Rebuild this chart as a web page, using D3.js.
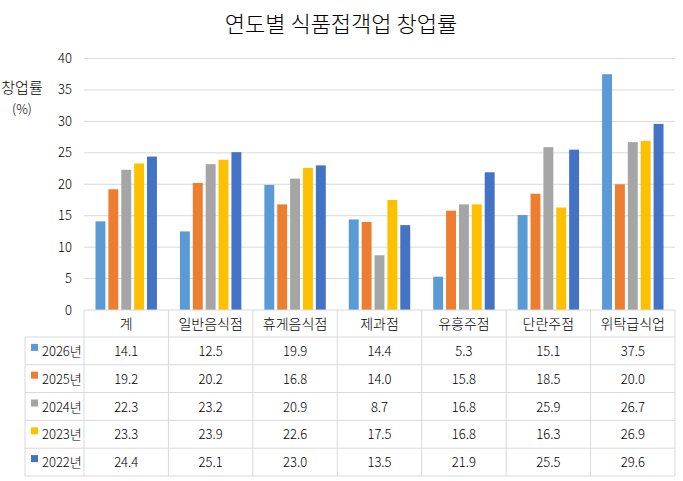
<!DOCTYPE html>
<html><head><meta charset="utf-8">
<script src="https://cdn.jsdelivr.net/npm/d3@7"></script>
<style>body{margin:0;background:#fff}svg{display:block;font-family:"Noto Sans CJK KR","Noto Sans",sans-serif}</style>
</head><body>
<script>
const categories = ["계","일반음식점","휴게음식점","제과점","유흥주점","단란주점","위탁급식업"];
const seriesNames = ["2026년","2025년","2024년","2023년","2022년"];
const v2026 = [14.1,12.5,19.9,14.4,5.3,15.1,37.5];
const v2025 = [19.2,20.2,16.8,14.0,15.8,18.5,20.0];
const v2024 = [22.3,23.2,20.9,8.7,16.8,25.9,26.7];
const v2023 = [23.3,23.9,22.6,17.5,16.8,16.3,26.9];
const v2022 = [24.4,25.1,23.0,13.5,21.9,25.5,29.6];
const yTicks = [0,5,10,15,20,25,30,35,40];
const colors = ["#5B9BD5","#ED7D31","#A5A5A5","#FFC000","#4472C4"];
const seriesValues = [v2026,v2025,v2024,v2023,v2022];

const W=683,H=481;
const svg=d3.select("body").append("svg").attr("width",W).attr("height",H);
const pLeft=84,pRight=675,pTop=58.5,pBottom=310;
const x=d3.scaleBand().domain(categories).range([pLeft,pRight]);
const xs=d3.scaleBand().domain(seriesNames).range([11.5,x.bandwidth()-11.5]).paddingInner(0.23);
const y=d3.scaleLinear().domain([0,40]).range([pBottom,pTop]);

// title
svg.append("text").attr("x",341).attr("y",32).attr("text-anchor","middle").attr("font-size",22).attr("font-weight",300).attr("fill","#000").text("연도별 식품접객업 창업률");
// y label
svg.append("text").attr("x",22).attr("y",93).attr("text-anchor","middle").attr("font-size",15).attr("font-weight",300).text("창업률");
svg.append("text").attr("x",22).attr("y",114).attr("text-anchor","middle").attr("font-size",13).attr("font-weight",300).text("(%)");

// grid
svg.append("g").selectAll("line").data(yTicks.filter(d=>d>0)).join("line")
 .attr("x1",pLeft).attr("x2",pRight).attr("y1",d=>y(d)).attr("y2",d=>y(d))
 .attr("stroke","#d9d9d9").attr("stroke-width",1);
// y tick labels
svg.append("g").selectAll("text").data(yTicks).join("text")
 .attr("x",72).attr("y",d=>y(d)+4.5).attr("text-anchor","end").attr("font-size",13).attr("font-weight",300).attr("fill","#000").text(d=>d);

// bars
seriesNames.forEach((s,i)=>{
  svg.append("g").selectAll("rect").data(categories).join("rect")
   .attr("x",c=>x(c)+xs(s)).attr("width",xs.bandwidth())
   .attr("y",(c,j)=>y(seriesValues[i][j])).attr("height",(c,j)=>pBottom-y(seriesValues[i][j]))
   .attr("fill",colors[i]);
});

// table
const rowH=27.8, headH=27;
const tb=svg.append("g").attr("font-weight",300);
const tableBottom=pBottom+headH+rowH*5;
const stroke="#d9d9d9";
tb.append("line").attr("x1",pLeft).attr("x2",pRight).attr("y1",pBottom).attr("y2",pBottom).attr("stroke",stroke);
for(let r=0;r<=5;r++){
  const yy=pBottom+headH+rowH*r;
  tb.append("line").attr("x1",25).attr("x2",pRight).attr("y1",yy).attr("y2",yy).attr("stroke",stroke);
}
tb.append("line").attr("x1",25).attr("x2",25).attr("y1",pBottom+headH).attr("y2",tableBottom).attr("stroke",stroke);
categories.forEach(c=>{
  tb.append("line").attr("x1",x(c)).attr("x2",x(c)).attr("y1",pBottom).attr("y2",tableBottom).attr("stroke",stroke);
});
tb.append("line").attr("x1",pRight).attr("x2",pRight).attr("y1",pBottom).attr("y2",tableBottom).attr("stroke",stroke);
tb.selectAll("text.cat").data(categories).join("text").attr("class","cat")
 .attr("x",c=>x(c)+x.bandwidth()/2).attr("y",pBottom+headH/2+5).attr("text-anchor","middle").attr("font-size",14).text(c=>c);
seriesNames.forEach((s,i)=>{
  const cy=pBottom+headH+rowH*i+rowH/2;
  tb.append("rect").attr("x",31).attr("y",cy-7).attr("width",7).attr("height",7).attr("fill",colors[i]);
  tb.append("text").attr("x",42).attr("y",cy+5).attr("font-size",13).text(s);
  tb.selectAll(null).data(categories).join("text")
   .attr("x",c=>x(c)+x.bandwidth()/2).attr("y",cy+5).attr("text-anchor","middle").attr("font-size",13)
   .text((c,j)=>seriesValues[i][j].toFixed(1));
});
</script>
</body></html>
